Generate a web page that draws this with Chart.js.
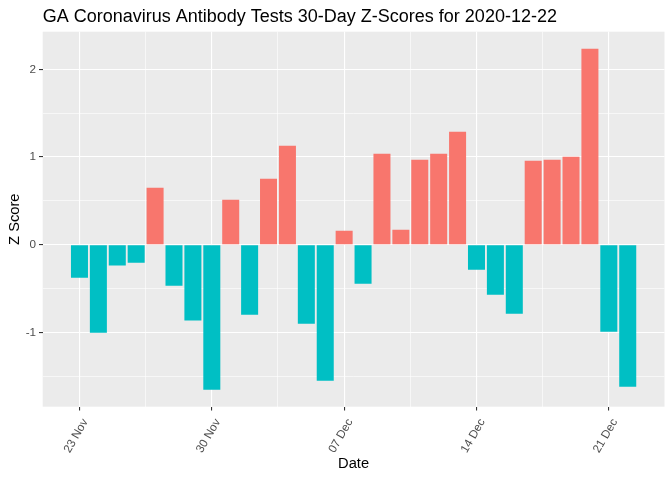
<!DOCTYPE html>
<html>
<head>
<meta charset="utf-8">
<script src="https://cdn.jsdelivr.net/npm/chart.js@4"></script>
<style>
html,body{margin:0;padding:0;background:#fff;}
#wrap{width:672px;height:480px;position:relative;}
</style>
</head>
<body>
<div id="wrap"><canvas id="c"></canvas></div>
<script>
const dates = ["2020-11-23","2020-11-24","2020-11-25","2020-11-26","2020-11-27","2020-11-28","2020-11-29","2020-11-30",
  "2020-12-01","2020-12-02","2020-12-03","2020-12-04","2020-12-05","2020-12-06","2020-12-07","2020-12-08","2020-12-09",
  "2020-12-10","2020-12-11","2020-12-12","2020-12-13","2020-12-14","2020-12-15","2020-12-16","2020-12-17","2020-12-18",
  "2020-12-19","2020-12-20","2020-12-21","2020-12-22"];
const zScores = [-0.376,-1.003,-0.236,-0.205,0.65,-0.467,-0.863,-1.653,0.513,-0.798,0.752,1.129,-0.901,-1.551,0.16,-0.445,
  1.038,0.171,0.969,1.038,1.288,-0.285,-0.570,-0.787,0.958,0.969,1.003,2.235,-0.992,-1.619];
const xTickDays = [0,7,14,21,28];
const xTickLabels = ["23 Nov","30 Nov","07 Dec","14 Dec","21 Dec"];
const yTickValues = [-1,0,1,2];
const yTickLabels = ["-1","0","1","2"];

const POS = "#F8766D", NEG = "#00BFC4";
const FONT = "'Liberation Sans', Arial, sans-serif";

const points = zScores.map((v,i)=>({x:i,y:v}));
const colors = zScores.map(v => v >= 0 ? POS : NEG);

const n = dates.length;
const xLo = -0.45, xHi = n - 1 + 0.45;
const xPad = (xHi - xLo) * 0.05;
const yMin = Math.min(...zScores), yMax = Math.max(...zScores);
const yPad = (yMax - yMin) * 0.05;

const xGridVals = [];
for (let v = xTickDays[0] - 3.5; v <= xHi + xPad; v += 3.5) if (v >= xLo - xPad) xGridVals.push(v);
const yGridVals = [];
for (let v = -1.5; v <= 2.0001; v += 0.5) yGridVals.push(Math.round(v*10)/10);

const tv = c => (c && c.tick) ? c.tick.value : NaN;
const isMajorX = c => xTickDays.includes(tv(c));
const isMajorY = c => yTickValues.includes(tv(c));

const panelBg = {
  id: 'panelBg',
  beforeDraw(chart) {
    const {ctx, chartArea: a} = chart;
    ctx.save();
    ctx.fillStyle = '#EBEBEB';
    ctx.fillRect(a.left, a.top, a.right - a.left, a.bottom - a.top);
    ctx.restore();
  }
};

new Chart(document.getElementById('c'), {
  type: 'bar',
  data: {
    datasets: [{
      data: points,
      backgroundColor: colors,
      borderWidth: 0,
      barPercentage: 0.9,
      categoryPercentage: 1.0
    }]
  },
  options: {
    responsive: true,
    maintainAspectRatio: false,
    animation: false,
    layout: { padding: { left: 5, right: 7.5, top: 0, bottom: 0 } },
    plugins: {
      legend: { display: false },
      tooltip: { enabled: false },
      title: {
        display: true,
        text: 'GA Coronavirus Antibody Tests 30-Day Z-Scores for 2020-12-22',
        align: 'start',
        fullSize: false,
        color: '#000',
        font: { family: FONT, size: 18, weight: 'normal' },
        padding: { top: 6, bottom: 4.1 }
      }
    },
    scales: {
      x: {
        type: 'linear',
        offset: false,
        min: xLo - xPad,
        max: xHi + xPad,
        afterBuildTicks: s => { s.ticks = xGridVals.map(v => ({value: v})); },
        afterFit: s => { s.height = 73.3; },
        border: { display: false },
        grid: {
          offset: false,
          color: '#FFFFFF',
          lineWidth: c => isMajorX(c) ? 1.1 : 0.6,
          tickColor: c => isMajorX(c) ? '#333333' : 'rgba(0,0,0,0)',
          tickLength: 3.7,
          tickWidth: 1.1
        },
        ticks: {
          autoSkip: false,
          maxRotation: 60,
          minRotation: 60,
          padding: 6,
          labelOffset: 6,
          color: '#4D4D4D',
          font: { family: FONT, size: 11.7 },
          callback: v => { const i = xTickDays.indexOf(v); return i >= 0 ? xTickLabels[i] : ''; }
        },
        title: {
          display: true,
          text: 'Date',
          color: '#000',
          font: { family: FONT, size: 14.7 },
          padding: { top: 0, bottom: 7.2 }
        }
      },
      y: {
        type: 'linear',
        min: yMin - yPad,
        max: yMax + yPad,
        afterBuildTicks: s => { s.ticks = yGridVals.map(v => ({value: v})); },
        afterFit: s => { s.width = 37.7; },
        border: { display: false },
        grid: {
          color: '#FFFFFF',
          lineWidth: c => isMajorY(c) ? 1.1 : 0.6,
          tickColor: c => isMajorY(c) ? '#333333' : 'rgba(0,0,0,0)',
          tickLength: 3.7,
          tickWidth: 1.1
        },
        ticks: {
          autoSkip: false,
          padding: 2.9,
          color: '#4D4D4D',
          font: { family: FONT, size: 11.7 },
          callback: v => { const i = yTickValues.indexOf(v); return i >= 0 ? yTickLabels[i] : ''; }
        },
        title: {
          display: true,
          text: 'Z Score',
          color: '#000',
          font: { family: FONT, size: 14.7 },
          padding: { top: 1, bottom: 0 }
        }
      }
    }
  },
  plugins: [panelBg]
});
</script>
</body>
</html>
